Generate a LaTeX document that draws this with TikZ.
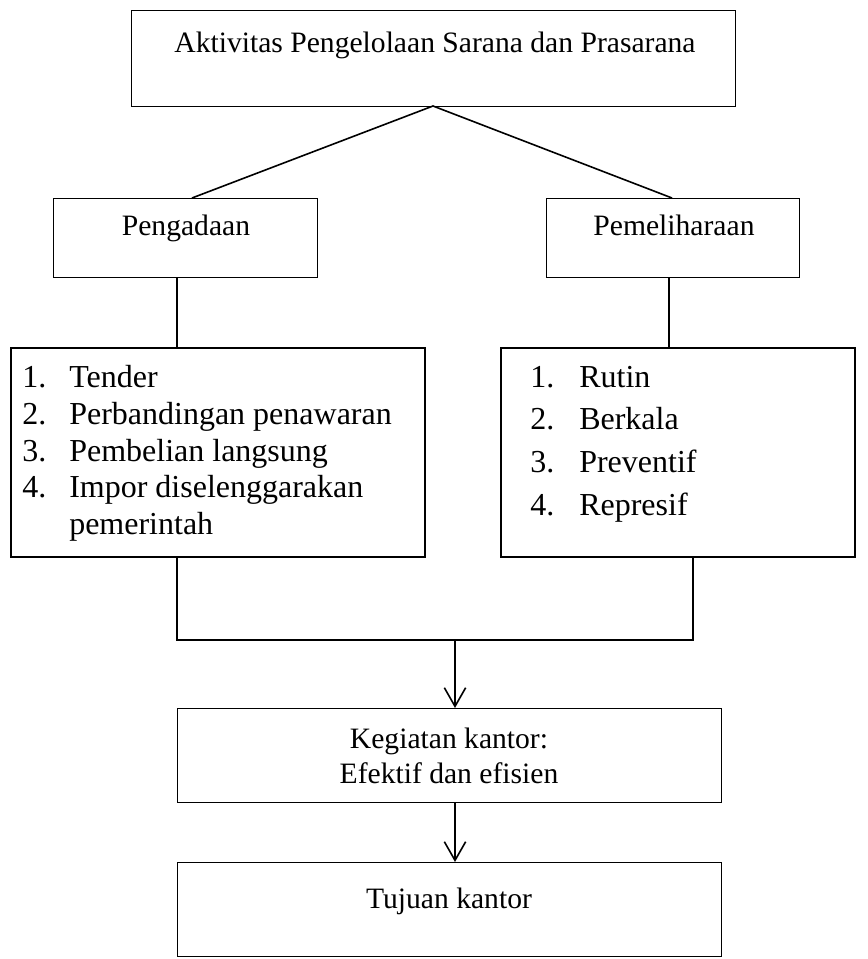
\documentclass[tikz,border=0pt]{standalone}
\usepackage{fontspec}
\setmainfont{Liberation Serif}
\usetikzlibrary{arrows.meta}
\newcommand\mkbox[6]{\node[#6, minimum width={(#4-#2)*0.75pt}, minimum height={(#5-#3)*0.75pt}] (#1) at ({(#2+#4)/2},{(#3+#5)/2}) {};}
\begin{document}
\begin{tikzpicture}[x=0.75pt,y=-0.75pt,
  box/.style={draw=black,line width=0.6pt,inner sep=0pt,outer sep=0pt},
  listbox/.style={draw=black,line width=1.3pt,inner sep=0pt,outer sep=0pt},
  lbl/.style={font=\fontsize{22.2}{27}\selectfont,inner sep=0pt,anchor=base},
  item/.style={font=\fontsize{24}{29}\selectfont,inner sep=0pt,anchor=base west},
  thinline/.style={line width=0.9pt},
  thickline/.style={line width=1.2pt},
  arr/.style={thickline,-{Straight Barb[length=14pt,width=16pt]}}]
\useasboundingbox (0,0) rectangle (867,959);
% boxes
\mkbox{top}{131}{10}{735}{106}{box}
\mkbox{peng}{53}{198}{317}{277}{box}
\mkbox{pem}{546}{198}{799}{277}{box}
\mkbox{llist}{11}{348}{425}{557}{listbox}
\mkbox{rlist}{501}{348}{855}{557}{listbox}
\mkbox{keg}{177}{708}{721}{802}{box}
\mkbox{tuj}{177}{862}{721}{956}{box}
% texts
\node[lbl] (t0) at (435,53) {Aktivitas Pengelolaan Sarana dan Prasarana};
\node[lbl] (t1) at (186,235) {Pengadaan};
\node[lbl] (t2) at (674,235) {Pemeliharaan};
\node[lbl] (t3) at (449,748) {Kegiatan kantor:};
\node[lbl] (t4) at (449,783) {Efektif dan efisien};
\node[lbl] (t5) at (449,908) {Tujuan kantor};
% left list
\foreach \n/\t/\y [count=\i] in {1./Tender/387, 2./Perbandingan penawaran/424, 3./Pembelian langsung/461, 4./Impor diselenggarakan/497}{
  \node[item] (ln\i) at (22,\y) {\n};
  \node[item] (lt\i) at (69,\y) {\t};
}
\node[item] (lt5) at (69,534) {pemerintah};
% right list
\foreach \n/\t/\y [count=\i] in {1./Rutin/387, 2./Berkala/429, 3./Preventif/472, 4./Represif/515}{
  \node[item] (rn\i) at (530,\y) {\n};
  \node[item] (rt\i) at (579,\y) {\t};
}
% connectors
\coordinate (pa) at (192,198);
\coordinate (pb) at (672,198);
\draw[thickline] (pa) -- (top.south) -- (pb);
\coordinate (vl) at (177,0);
\coordinate (vr) at (669,0);
\draw[thinline] (peng.south -| vl) -- (llist.north -| vl);
\draw[thinline] (pem.south -| vr) -- (rlist.north -| vr);
\coordinate (bl) at (177,640);
\coordinate (br) at (693,640);
\draw[thickline] (llist.south -| bl) -- (bl) -- (br) -- (rlist.south -| br);
\coordinate (ax) at (455,0);
\draw[arr] (bl -| ax) -- (keg.north -| ax);
\draw[arr] (keg.south -| ax) -- (tuj.north -| ax);
\end{tikzpicture}
\end{document}
